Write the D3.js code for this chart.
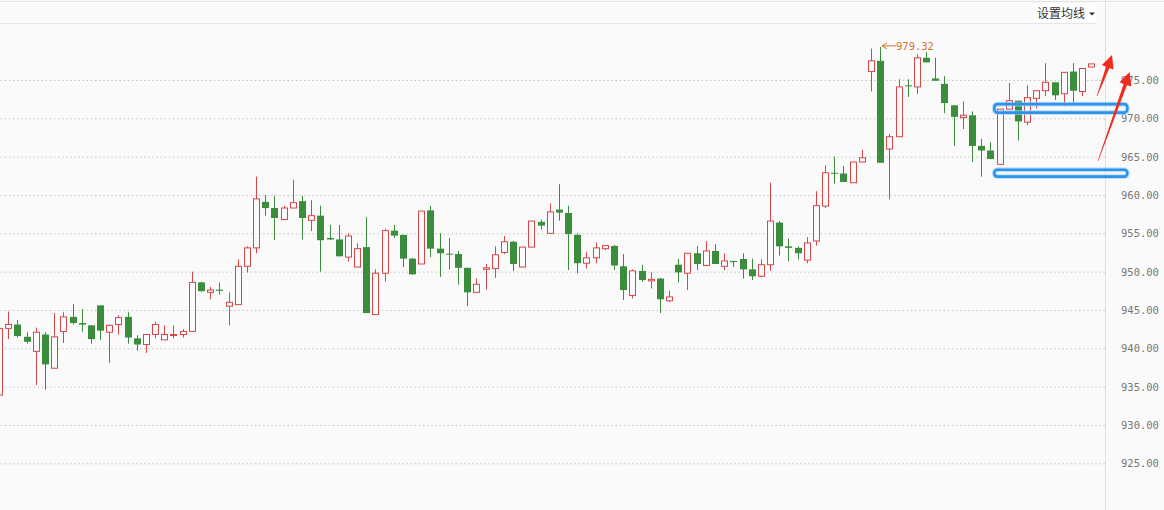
<!DOCTYPE html>
<html>
<head>
<meta charset="utf-8">
<script src="https://cdn.jsdelivr.net/npm/d3@7"></script>
<style>
  html, body { margin: 0; padding: 0; background: #fafafa; }
  svg { display: block; }
</style>
</head>
<body>
<svg id="chart" width="1164" height="510"></svg>
<script>
// OHLC per bar
var opens  = [933.9,942.6,943.1,941.5,939.6,941.8,937.4,942.2,944.1,943.3,943.0,945.6,942.1,943.1,944.1,941.3,940.5,941.8,941.1,941.7,
              941.8,942.2,948.6,947.3,947.65,945.5,945.7,950.7,953.1,959.1,958.3,956.8,958.3,959.2,956.7,957.3,954.4,954.2,951.9,950.6,
              953.2,944.4,949.8,955.35,954.8,951.7,951.0,958.0,953.0,952.35,952.3,950.5,947.3,950.3,950.4,952.5,953.9,950.6,953.2,956.5,
              955.0,958.1,957.65,954.8,951.1,951.8,953.0,953.35,950.7,946.9,950.1,948.8,949.1,946.2,950.9,949.8,952.4,950.8,952.7,950.7,
              951.4,951.65,950.3,949.4,950.9,956.4,953.3,953.1,951.5,954.0,958.55,962.9,962.8,961.6,964.3,976.1,977.5,966.0,967.6,974.3,
              974.1,977.9,975.2,974.5,971.7,970.1,970.4,966.4,965.8,964.0,971.2,972.3,969.5,972.6,973.6,974.7,973.2,976.1,973.5,976.7];
var highs  = [943.7,944.8,943.7,942.1,942.7,942.1,944.6,944.7,945.75,945.1,943.0,945.6,943.1,944.3,944.7,941.7,941.8,943.5,943.0,943.0,
              942.5,950.0,948.7,948.0,948.6,947.3,951.6,953.3,962.4,960.0,959.9,958.6,962.0,959.9,959.3,958.6,956.1,956.1,955.0,953.7,
              957.1,950.3,955.6,956.1,954.8,951.8,957.9,958.6,955.0,954.4,952.7,950.5,949.1,951.0,953.3,954.65,954.0,953.2,956.6,956.8,
              958.9,961.4,958.6,955.0,952.6,953.8,953.4,953.5,952.3,950.3,950.9,949.9,949.2,947.5,951.65,952.4,953.35,954.0,953.6,952.4,
              951.4,952.4,951.7,951.6,961.6,956.6,954.3,953.3,954.5,960.5,963.85,965.0,963.8,964.3,965.9,979.1,979.32,968.0,975.1,975.1,
              978.35,978.65,977.9,975.5,971.7,972.2,970.9,967.3,966.9,971.2,974.6,972.3,974.3,973.6,977.2,974.7,976.0,977.2,976.5,977.1];
var lows   = [933.6,941.2,941.4,940.6,935.2,934.6,937.4,940.7,943.1,942.15,940.6,941.1,938.1,941.8,940.6,939.7,939.4,941.3,941.1,941.3,
              941.4,942.2,947.4,946.4,947.0,943.0,945.7,949.9,952.4,957.3,954.1,956.7,958.3,954.2,955.3,950.0,954.1,952.0,951.3,950.6,
              944.6,944.4,948.7,954.4,950.6,949.6,951.0,951.9,949.3,950.3,948.3,945.5,947.3,947.65,949.2,952.3,950.1,950.6,953.2,955.5,
              955.0,956.65,950.2,949.8,950.4,951.1,952.8,950.2,946.3,946.5,948.7,947.8,944.6,946.0,948.6,947.6,950.2,950.8,951.0,950.2,
              950.6,949.1,948.9,949.3,950.1,952.1,951.35,951.6,951.1,953.4,958.3,961.5,961.7,961.6,964.3,973.5,964.2,959.45,967.6,972.8,
              973.2,977.3,974.9,970.7,966.4,968.6,964.3,962.4,964.65,964.0,971.2,967.1,969.1,971.3,972.9,972.4,971.6,972.0,972.9,976.7];
var closes = [942.6,943.1,941.6,940.85,942.1,937.9,941.5,944.1,943.3,943.1,941.2,942.3,943.0,944.0,941.4,940.5,941.8,943.1,941.8,941.8,
              942.2,948.6,947.45,947.6,947.5,946.0,950.7,953.1,959.5,958.3,957.0,958.3,959.0,957.0,957.3,954.1,954.2,952.0,954.65,953.0,
              944.6,949.8,955.35,954.7,951.7,949.65,957.9,953.0,952.4,952.3,950.5,947.3,948.35,950.5,952.2,953.9,951.0,953.2,956.6,956.0,
              957.8,957.7,954.9,951.1,951.8,953.1,953.4,950.8,947.6,950.1,948.9,949.0,946.4,946.7,949.9,952.4,951.0,952.7,951.0,951.4,
              951.25,950.3,949.4,950.9,956.6,953.3,953.1,952.4,953.75,958.6,962.9,962.85,961.7,964.3,964.85,977.5,964.2,967.6,974.1,974.2,
              977.9,977.3,974.9,972.0,970.2,970.4,966.4,965.8,964.7,971.2,972.3,969.6,972.7,973.6,974.7,973.0,976.0,973.6,976.5,977.1];

var priceTicks = [925, 930, 935, 940, 945, 950, 955, 960, 965, 970, 975];
var maxLabel = "979.32";
var maxIndex = 96;
var menuLabel = "设置均线";

// highlighted price bands (blue boxes): price range and first bar
var zones = [
  {from: 109, lo: 970.75, hi: 971.85},
  {from: 109, lo: 962.4,  hi: 963.3}
];

var W = 1164, H = 510;
var PLOT_RIGHT = 1105;
var RED = "#d6474a", GREEN = "#3a8d3a", BG = "#fafafa";

var n = opens.length;
var step = 9.178;
var x0 = -5.49;

var x = d3.scaleBand()
    .domain(d3.range(n))
    .range([x0, x0 + n * step])
    .paddingInner(0.3)
    .paddingOuter(0.15);

var y = d3.scaleLinear()
    .domain([925, 975])
    .range([463.3, 80]);

var svg = d3.select("#chart");

svg.append("rect").attr("width", W).attr("height", H).attr("fill", BG);

// frame lines
svg.append("line").attr("x1", 0).attr("x2", W).attr("y1", 1.5).attr("y2", 1.5)
    .attr("stroke", "#e3e3e3");
svg.append("line").attr("x1", 0).attr("x2", 1096).attr("y1", 23.5).attr("y2", 23.5)
    .attr("stroke", "#e6e6e6");
svg.append("line").attr("x1", PLOT_RIGHT + 0.5).attr("x2", PLOT_RIGHT + 0.5).attr("y1", 0).attr("y2", H)
    .attr("stroke", "#e0e0e0");

// menu button
svg.append("rect").attr("x", 1034).attr("y", 4).attr("width", 62).attr("height", 18).attr("fill", "#ffffff");
svg.append("text")
    .attr("x", 1037).attr("y", 18)
    .attr("font-family", "'Noto Sans CJK SC', sans-serif")
    .attr("font-size", 12)
    .attr("fill", "#333")
    .text(menuLabel);
svg.append("path").attr("d", "M1089,12.5 L1095,12.5 L1092,15.5 Z").attr("fill", "#333");

// grid + axis
var axis = d3.axisRight(y)
    .tickValues(priceTicks)
    .tickFormat(d3.format(".2f"))
    .tickSize(-PLOT_RIGHT)
    .tickPadding(16);

var gAxis = svg.append("g")
    .attr("transform", "translate(" + PLOT_RIGHT + ",0)")
    .call(axis);
gAxis.select(".domain").remove();
gAxis.selectAll(".tick line")
    .attr("stroke", "#c4c4c4")
    .attr("stroke-dasharray", "1.5,2.6");
gAxis.selectAll(".tick text")
    .attr("fill", "#777")
    .attr("font-family", "'DejaVu Sans Mono', monospace")
    .attr("font-size", 10.5);

// candles
var bars = d3.range(n).map(function(i) {
  return {i: i, o: opens[i], h: highs[i], l: lows[i], c: closes[i], up: closes[i] >= opens[i]};
});

var gCandles = svg.append("g");
var candle = gCandles.selectAll(".candle")
    .data(bars)
    .enter().append("g")
    .attr("class", "candle");

function cx(d) { return Math.round(x(d.i) + x.bandwidth() / 2); }

candle.append("line")
    .attr("x1", function(d) { return cx(d) + 0.5; })
    .attr("x2", function(d) { return cx(d) + 0.5; })
    .attr("y1", function(d) { return y(d.h); })
    .attr("y2", function(d) { return y(d.l); })
    .attr("stroke", function(d) { return d.up ? RED : GREEN; });

candle.append("rect")
    .attr("x", function(d) { return d.up ? cx(d) - 2.5 : cx(d) - 3; })
    .attr("width", function(d) { return d.up ? 6 : 7; })
    .attr("y", function(d) { return y(Math.max(d.o, d.c)); })
    .attr("height", function(d) { return Math.max(1, Math.abs(y(d.o) - y(d.c))); })
    .attr("fill", function(d) { return d.up ? BG : GREEN; })
    .attr("stroke", function(d) { return d.up ? RED : "none"; });

// max marker
var mx = cx(bars[maxIndex]) + 2;
var my = y(highs[maxIndex]) - 1;
var gMax = svg.append("g").attr("fill", "#d0742c").attr("stroke", "#d0742c");
gMax.append("line").attr("x1", mx).attr("x2", mx + 14).attr("y1", my).attr("y2", my);
gMax.append("path").attr("d", "M" + (mx + 5) + "," + (my - 3) + " L" + mx + "," + my + " L" + (mx + 5) + "," + (my + 3))
    .attr("fill", "none");
gMax.append("text")
    .attr("x", mx + 14).attr("y", my + 4)
    .attr("stroke", "none")
    .attr("font-family", "'DejaVu Sans Mono', monospace")
    .attr("font-size", 10.5)
    .text(maxLabel);

// highlighted zones
var gZones = svg.append("g");
zones.forEach(function(z) {
  var zx = x(z.from) - 2;
  var zy = y(z.hi), zh = y(z.lo) - y(z.hi);
  gZones.append("rect")
      .attr("x", zx).attr("y", zy).attr("width", 1127.3 - zx).attr("height", zh)
      .attr("rx", 3).attr("fill", "none")
      .attr("stroke", "#9fd0f7").attr("stroke-width", 5).attr("opacity", 0.6);
  gZones.append("rect")
      .attr("x", zx).attr("y", zy).attr("width", 1127.3 - zx).attr("height", zh)
      .attr("rx", 3).attr("fill", "none")
      .attr("stroke", "#2c93ea").attr("stroke-width", 2.6);
});

// red brush arrows
function arrow(tail, tip) {
  var dx = tip[0] - tail[0], dy = tip[1] - tail[1];
  var len = Math.sqrt(dx * dx + dy * dy);
  var ux = dx / len, uy = dy / len;
  var nx = -uy, ny = ux;
  var L = 13;
  var bx = tip[0] - ux * L, by = tip[1] - uy * L;
  function p(px, py, k) { return [px + nx * k, py + ny * k]; }
  var pts = [p(tail[0], tail[1], 0.3), p(bx, by, 2), p(bx, by, 6.5), tip, p(bx, by, -6), p(bx, by, -1.6), p(tail[0], tail[1], -0.3)];
  return "M" + pts.map(function(q) { return q[0].toFixed(1) + "," + q[1].toFixed(1); }).join("L") + "Z";
}

var gArrows = svg.append("g").attr("fill", "#f42a1c");
gArrows.append("path").attr("d", arrow([1097, 96], [1112, 55]));
gArrows.append("path").attr("d", arrow([1098, 161], [1129.5, 72]));
</script>
</body>
</html>
